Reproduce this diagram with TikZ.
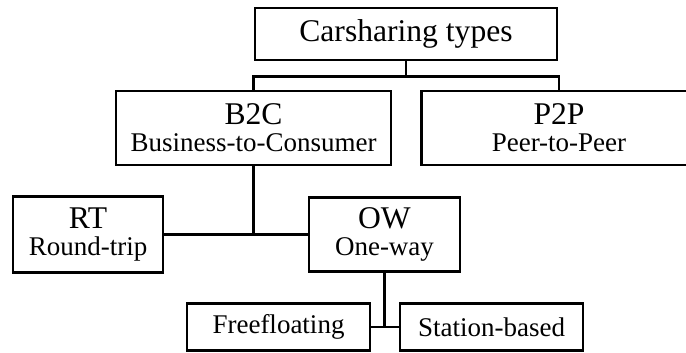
\documentclass[tikz,border=0pt]{standalone}
\usepackage{fontspec}
\setmainfont{Liberation Serif}

\tikzstyle{bx} = [draw, line width=1.4pt, inner sep=0pt, align=center, font=\fontsize{15.8}{13.5}\selectfont]
\tikzstyle{sm} = [font=\fontsize{13.5}{13.5}\selectfont]
\tikzstyle{ln} = [line width=1.4pt]

\begin{document}
\begin{tikzpicture}[x=0.5pt, y=-0.5pt]
  \useasboundingbox (0,0) rectangle (686,353);
  \node[bx, minimum width=151pt, minimum height=26pt] (cs) at (406,34) {Carsharing types};
  \node[bx, minimum width=137.5pt, minimum height=37pt] (b2c) at (253.5,128) {B2C\\{\fontsize{13.5}{13.5}\selectfont Business-to-Consumer}};
  \node[bx, minimum width=137.5pt, minimum height=37pt] (p2p) at (559,128) {P2P\\{\fontsize{13.5}{13.5}\selectfont Peer-to-Peer}};
  \node[bx, minimum width=75pt, minimum height=38pt] (rt) at (88,234.5) {RT\\{\fontsize{13.5}{13.5}\selectfont Round-trip}};
  \node[bx, minimum width=75.5pt, minimum height=37pt] (ow) at (384.5,234.5) {OW\\{\fontsize{13.5}{13.5}\selectfont One-way}};
  \node[bx, sm, minimum width=91.5pt, minimum height=23.5pt] (ff) at (278.5,327) {Freefloating};
  \node[bx, sm, minimum width=91.5pt, minimum height=23.5pt] (stb) at (491.5,327) {Station-based};

  \draw[ln] (cs.south) -- ++(0,15) coordinate (j1);
  \draw[ln] (b2c.north) |- (j1) -| (p2p.north);
  \draw[ln] (rt.east) -- (ow.west);
  \draw[ln] (b2c.south) -- (b2c.south |- rt.east);
  \draw[ln] (ff.east) -- (stb.west);
  \draw[ln] (ow.south) -- (ow.south |- ff.east);
\end{tikzpicture}
\end{document}
